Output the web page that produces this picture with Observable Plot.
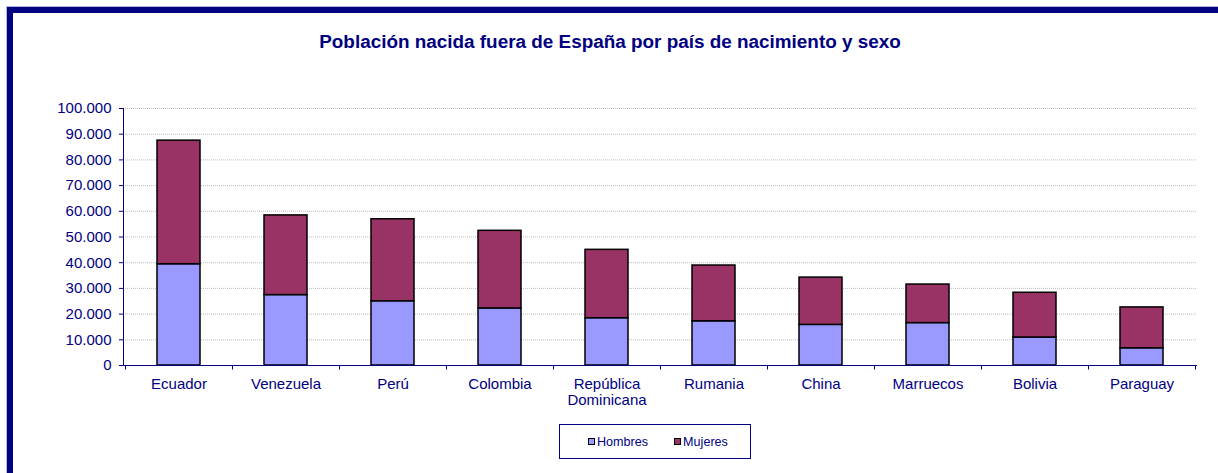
<!DOCTYPE html>
<html><head><meta charset="utf-8">
<script src="https://cdn.jsdelivr.net/npm/d3@7"></script>
<script src="https://cdn.jsdelivr.net/npm/@observablehq/plot@0.6"></script>
<style>
body{margin:0;background:#fff;font-family:"Liberation Sans",Arial,sans-serif;}
#wrap{position:relative;width:1218px;height:473px;overflow:hidden;background:#fff;}
#frame{position:absolute;left:7px;top:7px;width:1300px;height:600px;border-left:6px solid #000080;border-top:6px solid #000080;box-shadow:-1px -1px 0 #b8b8e0;}
#title{position:absolute;left:0;top:32px;width:1220px;text-align:center;font-weight:bold;font-size:18.9px;line-height:20px;color:#000080;}
#chart{position:absolute;left:0;top:0;}
#legend{position:absolute;left:559px;top:424px;width:192px;height:35px;border:1px solid #000080;box-sizing:border-box;display:flex;align-items:center;padding-left:28px;font-size:12.6px;color:#000080;}
.item{display:flex;align-items:center;margin-right:26px;}
.sw{width:5px;height:5px;border:1px solid #000;margin-right:2px;}
</style></head>
<body>
<div id="wrap">
  <div id="frame"></div>
  <div id="chart"></div>
  <div id="title">Población nacida fuera de España por país de nacimiento y sexo</div>
  <div id="legend"></div>
</div>
<script>
const countries = ["Ecuador","Venezuela","Perú","Colombia","República Dominicana","Rumania","China","Marruecos","Bolivia","Paraguay"];
const hombres = [39400,27400,25000,22200,18400,17200,15800,16500,10900,6700];
const mujeres = [48100,31000,31900,30200,26600,21700,18400,15000,17400,15900];
const series = ["Hombres","Mujeres"];
const seriesColors = ["#9999FF","#993366"];
const yTicks = [0,10000,20000,30000,40000,50000,60000,70000,80000,90000,100000];

const data = [];
countries.forEach((c,i) => {
  data.push({country:c, sex:series[0], value:hombres[i]});
  data.push({country:c, sex:series[1], value:mujeres[i]});
});

const fmt = d3.formatLocale({decimal:",", thousands:".", grouping:[3], currency:["","€"]}).format(",d");
const navy = "#000080";

function categoryFrame(index, scales, values, dims) {
  const x = scales.x, y = scales.y;
  const step = x.step(), bw = x.bandwidth();
  const g = d3.create("svg:g").attr("stroke", navy).attr("fill","none").attr("stroke-width",1);
  const y0 = Math.round(y(0)) + 0.5;
  const xl = Math.round(dims.marginLeft) + 0.5;
  g.append("line").attr("x1", xl).attr("x2", xl).attr("y1", y(yTicks[yTicks.length-1])).attr("y2", y0);
  const bounds = countries.map(c => x(c) - (step - bw)/2);
  bounds.push(x(countries[countries.length-1]) + bw + (step - bw)/2);
  for (const b of bounds) {
    const bx = Math.round(b) + 0.5;
    g.append("line").attr("x1", bx).attr("x2", bx).attr("y1", y0).attr("y2", y0 + 4);
  }
  return g.node();
}

const chart = Plot.plot({
  width: 1218,
  height: 420,
  marginTop: 108,
  marginBottom: 55,
  marginLeft: 123,
  marginRight: 21,
  style: {background: "transparent", fontFamily: '"Liberation Sans", Arial, sans-serif', overflow: "visible"},
  x: {domain: countries, paddingInner: 0.6, paddingOuter: 0.3, label: null},
  y: {domain: [0, 100000], label: null},
  color: {domain: series, range: seriesColors},
  marks: [
    Plot.gridY(yTicks, {stroke: "#bdbdbd", strokeOpacity: 1, strokeDasharray: "1,1"}),
    Plot.barY(data, {x: "country", y: "value", fill: "sex", stroke: "#000", strokeWidth: 1.5}),
    Plot.ruleY([0], {stroke: navy}),
    categoryFrame,
    Plot.axisY(yTicks, {tickSize: 4, tickPadding: 8, tickFormat: fmt, fontSize: 15, color: navy, label: null}),
    Plot.axisX({tickSize: 0, tickPadding: 11, fontSize: 15, color: navy, label: null, lineHeight: 1.13, tickFormat: d => d.replace(" ", "\n")})
  ]
});
document.getElementById("chart").appendChild(chart);

const legend = d3.select("#legend");
series.forEach((s,i) => {
  const it = legend.append("div").attr("class","item");
  it.append("div").attr("class","sw").style("background", seriesColors[i]);
  it.append("span").text(s);
});
</script>
</body></html>
